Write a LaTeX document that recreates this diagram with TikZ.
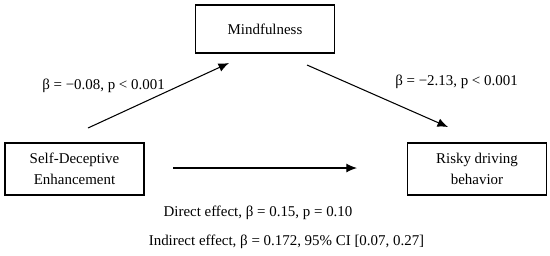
\documentclass[tikz,border=0pt]{standalone}
\usepackage{fontspec}
\setmainfont{Liberation Serif}
\usetikzlibrary{arrows.meta}

\begin{document}
\begin{tikzpicture}[x=0.02cm, y=-0.02cm, >={Latex[length=6pt,width=5pt]},
    varbox/.style={draw, semithick, align=center, minimum width=2.78cm, font=\fontsize{8.5}{12}\selectfont},
    coef/.style={font=\fontsize{8.5}{10}\selectfont}]
    % 0. picture frame
    \useasboundingbox (0,0) rectangle (550,255);

    % 1. variable boxes
    \node[varbox, minimum height=0.96cm] (mind) at (265,29) {Mindfulness};
    \node[varbox, minimum height=1.04cm] (sde) at (74.5,169) {Self-Deceptive\\Enhancement};
    \node[varbox, minimum height=1.04cm] (risky) at (477,169) {Risky driving\\behavior};

    % 2. path ends
    \coordinate (a1) at (88,128);
    \coordinate (a2) at (229,63);
    \coordinate (b1) at (307,65);
    \coordinate (b2) at (448,127);
    \coordinate (c1) at (173,168);
    \coordinate (c2) at (357,168);

    % 3. arrows
    \draw[->, semithick] (a1) -- (a2);
    \draw[->, semithick] (b1) -- (b2);
    \draw[->, semithick] (c1) -- (c2);

    % 4. coefficients
    \node[coef] (pa) at (103.5,86) {β = −0.08, p < 0.001};
    \node[coef] (pb) at (456.5,82) {β = −2.13, p < 0.001};
    \node[coef] (direct) at (258,213) {Direct effect, β = 0.15, p = 0.10};
    \node[coef] (indirect) at (286.5,242) {Indirect effect, β = 0.172, 95\% CI [0.07, 0.27]};
\end{tikzpicture}
\end{document}
